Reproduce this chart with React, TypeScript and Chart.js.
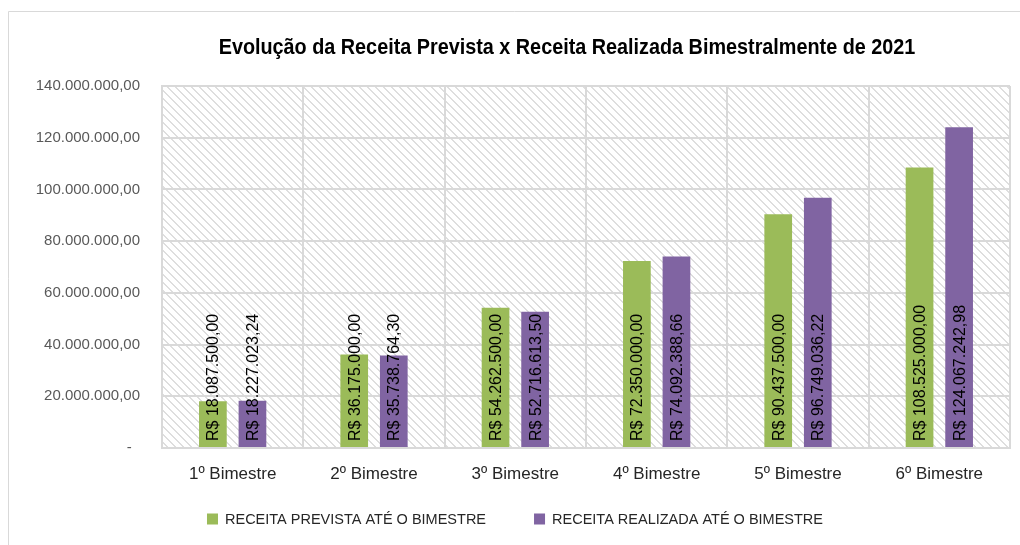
import React, { useEffect, useRef } from 'react';
import { Chart, registerables } from 'chart.js';

Chart.register(...registerables);

const chartTitle = 'Evolução da Receita Prevista x Receita Realizada Bimestralmente de 2021';
const categories = ['1º Bimestre', '2º Bimestre', '3º Bimestre', '4º Bimestre', '5º Bimestre', '6º Bimestre'];
const previstaLabel = 'RECEITA PREVISTA ATÉ O BIMESTRE';
const realizadaLabel = 'RECEITA REALIZADA ATÉ O BIMESTRE';
const receitaPrevista = [18087500.0, 36175000.0, 54262500.0, 72350000.0, 90437500.0, 108525000.0];
const receitaRealizada = [18227023.24, 35738764.3, 52716613.5, 74092388.66, 96749036.22, 124067242.98];
const yMin = 0;
const yMax = 140000000;
const yStep = 20000000;

const GREEN = '#9BBB59';
const PURPLE = '#8064A2';
const GRID = '#d9d9d9';

function fmtNum(v: number): string {
  const [i, d] = v.toFixed(2).split('.');
  return i.replace(/\B(?=(\d{3})+(?!\d))/g, '.') + ',' + d;
}

function makeHatch(): CanvasPattern | string {
  const c = document.createElement('canvas');
  c.width = 8;
  c.height = 8;
  const g = c.getContext('2d');
  if (!g) return '#fff';
  g.fillStyle = '#ffffff';
  g.fillRect(0, 0, 8, 8);
  g.fillStyle = '#dedede';
  for (let y = 0; y < 8; y++) {
    for (let x = 0; x < 8; x++) {
      if (((x - y + 16) % 8) < 2) g.fillRect(x, y, 1, 1);
    }
  }
  const p = g.createPattern(c, 'repeat');
  return p || '#fff';
}

export default function App() {
  const ref = useRef<HTMLCanvasElement | null>(null);

  useEffect(() => {
    const canvas = ref.current;
    if (!canvas) return;
    const hatch = makeHatch();

    const bgPlugin = {
      id: 'bgPlugin',
      beforeDraw(chart: any) {
        const { ctx, chartArea } = chart;
        ctx.save();
        ctx.fillStyle = '#ffffff';
        ctx.fillRect(0, 0, chart.width, chart.height);
        // outer frame
        ctx.strokeStyle = '#d9d9d9';
        ctx.lineWidth = 1;
        ctx.beginPath();
        ctx.moveTo(8.5, chart.height);
        ctx.lineTo(8.5, 11.5);
        ctx.lineTo(chart.width, 11.5);
        ctx.stroke();
        // hatched plot area
        ctx.fillStyle = hatch;
        ctx.fillRect(chartArea.left, chartArea.top, chartArea.right - chartArea.left, chartArea.bottom - chartArea.top);
        ctx.restore();
      },
    };

    const labelPlugin = {
      id: 'labelPlugin',
      afterDatasetsDraw(chart: any) {
        const { ctx } = chart;
        ctx.save();
        ctx.font = '16px "Liberation Sans", Arial, sans-serif';
        ctx.fillStyle = '#000000';
        ctx.textAlign = 'left';
        ctx.textBaseline = 'middle';
        chart.data.datasets.forEach((ds: any, di: number) => {
          const meta = chart.getDatasetMeta(di);
          meta.data.forEach((bar: any, i: number) => {
            const text = 'R$ ' + fmtNum(ds.data[i]);
            ctx.save();
            ctx.translate(bar.x + 1, bar.base - 6);
            ctx.rotate(-Math.PI / 2);
            ctx.fillText(text, 0, 0);
            ctx.restore();
          });
        });
        ctx.restore();
      },
      afterDraw(chart: any) {
        const { ctx } = chart;
        ctx.save();
        // title (narrow bold face imitated by a horizontal squeeze)
        ctx.save();
        ctx.font = 'bold 22px "Liberation Sans", Arial, sans-serif';
        ctx.fillStyle = '#000000';
        ctx.textAlign = 'center';
        ctx.textBaseline = 'middle';
        ctx.translate(567, 48);
        ctx.scale(0.9, 1);
        ctx.fillText(chartTitle, 0, 0);
        ctx.restore();
        // legend
        ctx.font = '14.5px "Liberation Sans", Arial, sans-serif';
        ctx.textAlign = 'left';
        ctx.textBaseline = 'middle';
        const items = [
          { text: chart.data.datasets[0].label, color: GREEN },
          { text: chart.data.datasets[1].label, color: PURPLE },
        ];
        const box = 11;
        const gap = 7;
        const itemGap = 48;
        const widths = items.map((it) => box + gap + ctx.measureText(it.text).width);
        const total = widths[0] + itemGap + widths[1];
        let x = 515 - total / 2;
        const cy = 519;
        items.forEach((it, k) => {
          ctx.fillStyle = it.color;
          ctx.fillRect(x, cy - box / 2, box, box);
          ctx.fillStyle = '#262626';
          ctx.fillText(it.text, x + box + gap, cy + 1);
          x += widths[k] + itemGap;
        });
        ctx.restore();
      },
    };

    const chart = new Chart(canvas, {
      type: 'bar',
      data: {
        labels: categories,
        datasets: [
          {
            label: previstaLabel,
            data: receitaPrevista,
            backgroundColor: GREEN,
            borderWidth: 0,
            categoryPercentage: 0.56,
            barPercentage: 0.7,
          },
          {
            label: realizadaLabel,
            data: receitaRealizada,
            backgroundColor: PURPLE,
            borderWidth: 0,
            categoryPercentage: 0.56,
            barPercentage: 0.7,
          },
        ],
      },
      options: {
        responsive: false,
        animation: false,
        devicePixelRatio: 1,
        layout: { padding: { top: 86, bottom: 45, left: 0, right: 10 } },
        plugins: {
          legend: { display: false },
          title: { display: false },
          tooltip: { enabled: false },
        },
        scales: {
          x: {
            grid: { color: GRID, lineWidth: 2, drawTicks: false, offset: true },
            border: { color: GRID, width: 2 },
            ticks: {
              color: '#262626',
              font: { family: '"Liberation Sans", Arial, sans-serif', size: 17 },
              padding: 16,
            },
            afterFit(scale: any) {
              scale.height = 52;
            },
          },
          y: {
            min: yMin,
            max: yMax,
            grid: { color: GRID, lineWidth: 2, drawTicks: false },
            border: { color: GRID, width: 2 },
            ticks: {
              stepSize: yStep,
              color: '#595959',
              font: { family: '"Liberation Sans", Arial, sans-serif', size: 15 },
              padding: 22,
              callback: (v: any) => (Number(v) === 0 ? '-  ' : fmtNum(Number(v))),
            },
            afterFit(scale: any) {
              scale.width = 162;
            },
          },
        },
      },
      plugins: [bgPlugin, labelPlugin],
    });

    return () => chart.destroy();
  }, []);

  return (
    <canvas
      ref={ref}
      width={1020}
      height={545}
      style={{ position: 'absolute', left: 0, top: 0, width: 1020, height: 545 }}
    />
  );
}
